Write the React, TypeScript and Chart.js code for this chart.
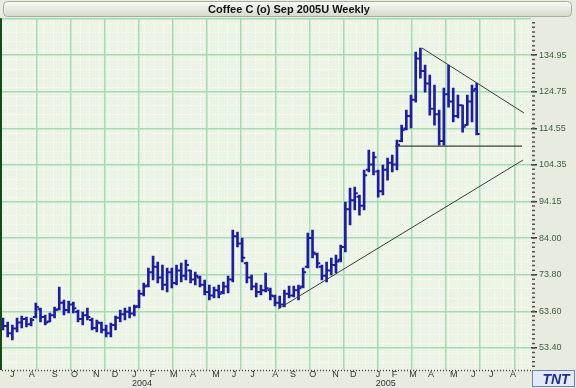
import React, { useEffect, useRef } from 'react';
import { Chart, registerables } from 'chart.js';

Chart.register(...registerables);

const TITLE = 'Coffee C (o) Sep 2005U Weekly';

// Weekly OHLC, one entry per week starting late June 2003
const highs = [
  61.75, 60.64, 59.8, 61.75, 62.31, 62.03, 61.75, 65.92, 64.53, 62.58,
  63.14, 64.81, 70.38, 66.76, 66.48, 66.2, 63.98, 63.42, 64.53, 61.75,
  61.19, 60.64, 59.8, 60.36, 62.31, 63.98, 64.53, 64.81, 65.37, 69.54,
  71.49, 75.66, 79.0, 77.33, 76.5, 75.66, 75.66, 76.5, 77.06, 77.89,
  75.11, 74.55, 73.44, 72.32, 70.93, 70.38, 70.93, 71.77, 73.44, 86.24,
  85.68, 84.01, 77.33, 73.72, 71.49, 70.93, 74.27, 70.1, 68.15, 67.87,
  69.54, 70.65, 70.65, 70.93, 75.66, 85.4, 86.24, 79.84, 76.5, 77.33,
  78.45, 79.28, 82.06, 94.03, 97.93, 98.21, 95.98, 102.94, 108.5, 107.95,
  102.94, 104.33, 106.28, 107.11, 111.29, 115.46, 119.64, 123.81, 135.78, 136.89,
  132.16, 129.38, 126.59, 119.64, 125.76, 132.16, 125.76, 123.81, 121.03, 123.81,
  126.59, 127.15,
];
const lows = [
  58.41, 56.46, 55.63, 57.85, 58.97, 59.24, 59.52, 61.75, 60.64, 59.8,
  60.64, 61.75, 63.98, 62.58, 63.14, 63.14, 60.64, 59.8, 61.19, 58.41,
  57.85, 57.57, 56.46, 56.46, 58.41, 60.64, 61.19, 61.75, 62.31, 64.53,
  67.87, 70.38, 72.32, 71.49, 69.54, 68.98, 70.1, 70.93, 71.77, 72.32,
  71.49, 70.93, 70.38, 68.15, 66.76, 67.32, 67.32, 68.43, 68.71, 71.77,
  81.51, 77.33, 71.49, 69.54, 67.59, 68.15, 68.98, 66.76, 65.09, 64.53,
  64.81, 67.32, 67.59, 66.76, 70.1, 75.66, 78.45, 75.66, 72.32, 71.77,
  73.72, 74.27, 77.33, 80.12, 87.63, 91.81, 90.41, 91.81, 102.38, 101.55,
  95.42, 95.98, 100.15, 102.38, 102.94, 110.73, 114.07, 114.63, 121.86, 128.54,
  124.64, 118.24, 115.46, 109.89, 109.89, 120.47, 116.3, 117.41, 113.51, 115.46,
  116.3, 112.68,
];
const opens = [
  60.5, 59.5, 57.5, 58.8, 60.5, 61.5, 60.0, 62.0, 64.2, 62.0,
  60.8, 62.5, 64.2, 66.0, 64.0, 65.5, 63.5, 61.5, 62.5, 61.2,
  59.0, 60.3, 58.5, 57.5, 59.8, 61.8, 62.8, 63.5, 63.0, 65.0,
  68.5, 70.8, 74.5, 76.0, 73.0, 71.0, 74.5, 71.5, 75.0, 73.5,
  75.0, 72.5, 73.0, 71.0, 69.0, 68.0, 69.5, 69.0, 70.5, 72.5,
  84.5, 82.5, 77.0, 73.0, 70.5, 69.0, 69.5, 69.5, 67.8, 66.0,
  65.5, 68.5, 68.0, 69.5, 70.5, 76.0, 84.0, 79.5, 76.0, 73.5,
  75.0, 76.5, 78.0, 81.5, 92.0, 94.5, 95.5, 93.0, 103.0, 104.5,
  102.5, 97.0, 103.0, 105.0, 104.5, 111.0, 114.5, 118.0, 122.5, 134.0,
  130.5, 127.0, 120.0, 118.5, 111.0, 124.0, 122.0, 118.0, 121.0, 115.5,
  122.0, 125.5,
];
const closes = [
  59.5, 57.5, 58.8, 60.5, 61.5, 60.0, 61.2, 64.8, 62.0, 60.5,
  62.5, 64.0, 66.0, 64.0, 65.5, 64.5, 61.5, 62.5, 62.0, 59.0,
  60.5, 58.5, 57.5, 59.8, 61.8, 62.8, 63.5, 63.0, 64.8, 68.5,
  70.5, 74.5, 76.0, 73.0, 71.0, 74.5, 71.5, 75.0, 73.5, 76.5,
  72.5, 73.5, 71.0, 69.0, 68.0, 69.5, 68.5, 70.5, 72.5, 84.5,
  82.5, 78.5, 73.0, 70.5, 69.0, 69.5, 70.0, 68.0, 66.0, 65.5,
  68.5, 68.0, 69.5, 70.0, 74.5, 84.0, 80.0, 77.0, 73.5, 75.0,
  76.5, 77.5, 81.5, 92.0, 94.5, 96.5, 93.0, 101.5, 104.5, 106.5,
  97.0, 103.0, 105.0, 104.5, 110.0, 114.0, 118.0, 122.5, 134.0, 130.5,
  127.0, 120.0, 118.5, 111.0, 124.0, 122.0, 118.0, 121.0, 115.0, 122.0,
  125.0, 113.0,
];

// Month tick labels (x in weeks from first bar)
const monthTickWeeks = [
  1.5, 5.5, 10.4, 14.5, 19.2, 23.2, 27.5, 31.3, 35.6, 39.9, 44.6, 48.8, 52.7,
  57.4, 61.2, 65.3, 70.2, 74.0, 79.5, 82.9, 86.6, 90.6, 95.3, 99.8, 103.6, 108.1,
];
const monthLabels = [
  'J', 'A', 'S', 'O', 'N', 'D', 'J', 'F', 'M', 'A', 'M', 'J', 'J',
  'A', 'S', 'O', 'N', 'D', 'J', 'F', 'M', 'A', 'M', 'J', 'J', 'A',
];
const yearLabels = [
  '', '', '', '', '', '', '2004', '', '', '', '', '', '',
  '', '', '', '', '', '2005', '', '', '', '', '', '', '',
];

// Price axis ticks
const yTickValues = [53.4, 63.6, 73.8, 84.0, 94.15, 104.35, 114.55, 124.75, 134.95];
const yTickLabels = ['53.40', '63.60', '73.80', '84.00', '94.15', '104.35', '114.55', '124.75', '134.95'];

// Trend lines (week, price)
const supportLine = [{ x: 58.64, y: 64.25 }, { x: 110.87, y: 105.72 }];
const baseLine = [{ x: 83.58, y: 109.62 }, { x: 110.66, y: 109.62 }];
const resistanceLine = [{ x: 89.34, y: 136.9 }, { x: 111.09, y: 118.81 }];

const X_MIN = -0.21;
const X_MAX = 112.58;
const Y_MIN = 47.28;
const Y_MAX = 145.2;

const FONT = 'Liberation Sans, Arial, sans-serif';
const BAR_COLOR = '#1c1ca4';
const GRID_COLOR = '#a6dab3';
const OUTER_BG = '#e7ebe0';
const PLOT_BG = '#ecf5e5';

const decor = {
  id: 'decor',
  beforeDraw(chart: any) {
    const { ctx, chartArea: a } = chart;
    ctx.save();
    // title bar
    const g = ctx.createLinearGradient(0, 2, 0, 17);
    g.addColorStop(0, '#f8f9f5');
    g.addColorStop(1, '#d2d9ca');
    ctx.fillStyle = g;
    ctx.strokeStyle = '#a7b09e';
    ctx.lineWidth = 1;
    ctx.beginPath();
    ctx.roundRect(3.5, 1.5, 568, 15, 4);
    ctx.fill();
    ctx.stroke();
    // plot background
    ctx.fillStyle = PLOT_BG;
    ctx.fillRect(a.left, a.top, a.right - a.left, a.bottom - a.top);
    // fine paper texture
    ctx.strokeStyle = 'rgba(255,255,255,0.9)';
    ctx.lineWidth = 1;
    ctx.setLineDash([1, 2]);
    const step = (a.right - a.left) / 14.387 / 4;
    ctx.beginPath();
    for (let x = a.left + step * 0.5; x < a.right; x += step) {
      ctx.moveTo(Math.round(x) + 0.5, a.top);
      ctx.lineTo(Math.round(x) + 0.5, a.bottom);
    }
    const ys = chart.scales.y;
    const dy = (ys.getPixelForValue(yTickValues[0]) - ys.getPixelForValue(yTickValues[1])) / 4;
    for (let y = ys.getPixelForValue(yTickValues[0]) + dy * 2.5; y > a.top; y -= dy) {
      if (y > a.bottom) continue;
      ctx.moveTo(a.left, Math.round(y) + 0.5);
      ctx.lineTo(a.right, Math.round(y) + 0.5);
    }
    ctx.stroke();
    ctx.restore();
  },
  afterDatasetsDraw(chart: any) {
    const { ctx } = chart;
    const xs = chart.scales.x;
    const ys = chart.scales.y;
    ctx.save();
    ctx.strokeStyle = BAR_COLOR;
    ctx.lineWidth = 2;
    ctx.beginPath();
    opens.forEach((o, i) => {
      const px = xs.getPixelForValue(i);
      const yo = ys.getPixelForValue(o);
      const yc = ys.getPixelForValue(closes[i]);
      ctx.moveTo(px - 3, yo);
      ctx.lineTo(px, yo);
      ctx.moveTo(px, yc);
      ctx.lineTo(px + 3, yc);
    });
    ctx.stroke();
    ctx.restore();
  },
  afterDraw(chart: any) {
    const { ctx, chartArea: a } = chart;
    const ys = chart.scales.y;
    ctx.save();
    // top border line
    ctx.strokeStyle = GRID_COLOR;
    ctx.lineWidth = 1.5;
    ctx.beginPath();
    ctx.moveTo(a.left, a.top + 0.5);
    ctx.lineTo(a.right, a.top + 0.5);
    ctx.stroke();
    // left dark border
    ctx.fillStyle = '#174a17';
    ctx.fillRect(0, a.top, 2, a.bottom - a.top);
    // bottom dotted axis line
    ctx.strokeStyle = '#444';
    ctx.lineWidth = 1.5;
    ctx.setLineDash([1, 2]);
    ctx.beginPath();
    ctx.moveTo(a.left, a.bottom + 0.5);
    ctx.lineTo(a.right, a.bottom + 0.5);
    ctx.stroke();
    ctx.setLineDash([]);
    // minor ticks on price axis
    const minorStep = (yTickValues[1] - yTickValues[0]) / 8;
    ctx.strokeStyle = '#555';
    ctx.lineWidth = 1.5;
    ctx.beginPath();
    for (let v = yTickValues[0] - minorStep * 4; v <= Y_MAX; v += minorStep) {
      const py = ys.getPixelForValue(v);
      if (py < a.top || py > a.bottom) continue;
      ctx.moveTo(a.right + 1, py);
      ctx.lineTo(a.right + 4, py);
    }
    ctx.stroke();
    // TNT logo
    const lx = a.right + 1;
    const ly = a.bottom;
    ctx.fillStyle = '#e4e9f6';
    ctx.fillRect(lx, ly, 576 - lx - 1, 388 - ly - 1);
    ctx.strokeStyle = '#6f80b3';
    ctx.lineWidth = 1;
    ctx.strokeRect(lx + 0.5, ly + 0.5, 576 - lx - 2, 388 - ly - 2);
    ctx.fillStyle = '#1d2f8f';
    ctx.font = `italic bold 14px ${FONT}`;
    ctx.textBaseline = 'middle';
    ctx.textAlign = 'center';
    ctx.fillText('TNT', lx + (576 - lx) / 2 + 2, ly + (388 - ly) / 2 + 1);
    ctx.restore();
  },
};

export default function App() {
  const canvasRef = useRef<HTMLCanvasElement | null>(null);

  useEffect(() => {
    const canvas = canvasRef.current;
    if (!canvas) return;
    const chart = new Chart(canvas, {
      type: 'bar',
      data: {
        datasets: [
          {
            type: 'bar',
            data: highs.map((h, i) => ({ x: i, y: [lows[i], h] })) as any,
            backgroundColor: BAR_COLOR,
            borderWidth: 0,
            barThickness: 2,
            order: 2,
          } as any,
          {
            type: 'line',
            data: supportLine as any,
            borderColor: '#3c3c3c',
            borderWidth: 1,
            pointRadius: 0,
            fill: false,
            order: 1,
          } as any,
          {
            type: 'line',
            data: baseLine as any,
            borderColor: '#3c3c3c',
            borderWidth: 1.2,
            pointRadius: 0,
            fill: false,
            order: 1,
          } as any,
          {
            type: 'line',
            data: resistanceLine as any,
            borderColor: '#3c3c3c',
            borderWidth: 1,
            pointRadius: 0,
            fill: false,
            order: 1,
          } as any,
        ],
      },
      options: {
        responsive: false,
        animation: false,
        events: [],
        layout: { padding: { left: 2, top: 2, right: 0, bottom: 0 } },
        plugins: {
          legend: { display: false },
          tooltip: { enabled: false },
          title: {
            display: true,
            text: TITLE,
            color: '#111',
            font: { family: FONT, size: 11, weight: 'bold' },
            padding: { top: 1, bottom: 2 },
          },
        },
        scales: {
          x: {
            type: 'linear',
            position: 'bottom',
            min: X_MIN,
            max: X_MAX,
            offset: false,
            grid: { display: false, drawTicks: false, offset: false },
            border: { display: false },
            afterBuildTicks: (scale: any) => {
              scale.ticks = monthTickWeeks.map((v) => ({ value: v }));
            },
            afterFit: (scale: any) => {
              scale.height = 18;
            },
            ticks: {
              autoSkip: false,
              maxRotation: 0,
              minRotation: 0,
              align: 'start',
              padding: 0,
              color: '#333',
              font: { family: FONT, size: 9, lineHeight: 1.0 },
              callback: (_v: any, i: number) =>
                yearLabels[i] ? [monthLabels[i], yearLabels[i]] : monthLabels[i],
            },
          },
          xg: {
            type: 'linear',
            position: 'top',
            min: 0.05,
            max: 14.437,
            grid: { color: GRID_COLOR, lineWidth: 1.5, drawTicks: false },
            border: { display: false },
            ticks: { display: false },
            afterBuildTicks: (scale: any) => {
              const t = [];
              for (let k = 1; k <= 14; k++) t.push({ value: k });
              scale.ticks = t;
            },
            afterFit: (scale: any) => {
              scale.height = 0;
            },
          },
          y: {
            type: 'linear',
            position: 'right',
            min: Y_MIN,
            max: Y_MAX,
            grid: {
              color: GRID_COLOR,
              lineWidth: 1.5,
              drawTicks: true,
              tickLength: 6,
              tickColor: '#333',
              tickWidth: 1.5,
            },
            border: { display: false },
            afterBuildTicks: (scale: any) => {
              scale.ticks = yTickValues.map((v) => ({ value: v }));
            },
            afterFit: (scale: any) => {
              scale.width = 45;
            },
            ticks: {
              autoSkip: false,
              padding: 2,
              color: '#3f5f3f',
              font: { family: FONT, size: 9 },
              callback: (_v: any, i: number) => yTickLabels[i],
            },
          },
        },
      } as any,
      plugins: [decor],
    });
    return () => chart.destroy();
  }, []);

  return (
    <div
      style={{
        position: 'fixed',
        left: 0,
        top: 0,
        width: 576,
        height: 388,
        background: OUTER_BG,
      }}
    >
      <canvas ref={canvasRef} width={576} height={388} style={{ display: 'block' }} />
    </div>
  );
}
